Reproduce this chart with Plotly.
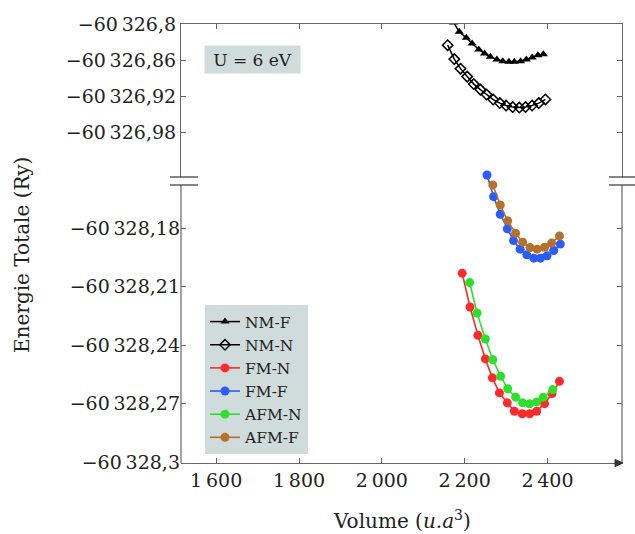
import plotly.graph_objects as go

# ---------------- data ----------------
nmf_v = [2173, 2187, 2204, 2218, 2234, 2248, 2262, 2278, 2292, 2307, 2320, 2335, 2349, 2363, 2377, 2390]
nmf_e = [-60326.797, -60326.8128, -60326.8228, -60326.8322, -60326.8422, -60326.8488, -60326.8545,
         -60326.8588, -60326.8617, -60326.8628, -60326.8628, -60326.8617, -60326.8588, -60326.8555,
         -60326.8517, -60326.8500]

nmn_v = [2159, 2175, 2190, 2206, 2222, 2238, 2253, 2269, 2285, 2300, 2316, 2332, 2347, 2363, 2379, 2395]
nmn_e = [-60326.835, -60326.8583, -60326.8742, -60326.8875, -60326.9000, -60326.9092, -60326.9175,
         -60326.9258, -60326.9317, -60326.9358, -60326.9383, -60326.9392, -60326.9383, -60326.9358,
         -60326.9317, -60326.9255]

fmn_v = [2194, 2213, 2232, 2250, 2267, 2284, 2303, 2320, 2339, 2357, 2374, 2393, 2411, 2429]
fmn_e = [-60328.2031, -60328.2204, -60328.2349, -60328.2470, -60328.2567, -60328.2644, -60328.2695,
         -60328.2738, -60328.2751, -60328.2751, -60328.2738, -60328.2699, -60328.2647, -60328.2585]

fmf_v = [2254, 2270, 2286, 2303, 2318, 2334, 2350, 2367, 2383, 2399, 2415, 2431]
fmf_e = [-60328.1528, -60328.1639, -60328.1729, -60328.1804, -60328.1864, -60328.1908, -60328.1937,
         -60328.1954, -60328.1954, -60328.1942, -60328.1915, -60328.1882]

afmn_v = [2212, 2230, 2250, 2268, 2287, 2304, 2323, 2340, 2357, 2374, 2390, 2413]
afmn_e = [-60328.2079, -60328.2235, -60328.2368, -60328.2474, -60328.2559, -60328.2623, -60328.2666,
          -60328.2695, -60328.2700, -60328.2690, -60328.2666, -60328.2627]

afmf_v = [2268, 2286, 2304, 2323, 2340, 2358, 2375, 2393, 2410, 2429]
afmf_e = [-60328.1579, -60328.1682, -60328.1763, -60328.1826, -60328.1872, -60328.1900, -60328.1908,
          -60328.1898, -60328.1877, -60328.1840]

x_ticks = [1600, 1800, 2000, 2200, 2400]
x_ticktext = ["1\u2009600", "1\u2009800", "2\u2009000", "2\u2009200", "2\u2009400"]
ytop_ticks = [-60326.8, -60326.86, -60326.92, -60326.98]
ytop_text = ["\u221260\u2009326,8", "\u221260\u2009326,86", "\u221260\u2009326,92", "\u221260\u2009326,98"]
ybot_ticks = [-60328.18, -60328.21, -60328.24, -60328.27, -60328.3]
ybot_text = ["\u221260\u2009328,18", "\u221260\u2009328,21", "\u221260\u2009328,24",
             "\u221260\u2009328,27", "\u221260\u2009328,3"]

# ---------------- figure ----------------
FONT = "DejaVu Serif"
TXT = "#222222"
AX = "#666666"
BOXBG = "#d0dbdb"

# pixel geometry of the plot area (l=181, r=622, t=24, b=463)
H = 439.0
W = 441.0
def py(p):  # pixel row -> paper y
    return (463 - p) / H
def px(p):  # pixel column -> paper x
    return (p - 181) / W

fig = go.Figure()

fig.add_trace(go.Scatter(x=nmf_v, y=nmf_e, name="NM-F", mode="lines+markers", xaxis="x2", yaxis="y2",
                         line=dict(color="black", width=1.5),
                         marker=dict(symbol="triangle-up", size=8, color="black")))
fig.add_trace(go.Scatter(x=nmn_v, y=nmn_e, name="NM-N", mode="lines+markers", xaxis="x2", yaxis="y2",
                         line=dict(color="black", width=1.5),
                         marker=dict(symbol="diamond-open", size=8, color="black", line=dict(width=1.5))))

def colored(v, e, name, col):
    return go.Scatter(x=v, y=e, name=name, mode="lines+markers", xaxis="x", yaxis="y",
                      line=dict(color=col, width=1.6),
                      marker=dict(symbol="circle", size=9, color=col))

fig.add_trace(colored(fmn_v, fmn_e, "FM-N", "#ff2a2a"))
fig.add_trace(colored(fmf_v, fmf_e, "FM-F", "#2a5cff"))
fig.add_trace(colored(afmn_v, afmn_e, "AFM-N", "#2ee02e"))
fig.add_trace(colored(afmf_v, afmf_e, "AFM-F", "#b5702a"))

xr = [1515, 2580]
common_x = dict(range=xr, tickvals=x_ticks, ticks="inside", ticklen=5, tickcolor=AX,
                showline=True, linecolor=AX, linewidth=1.2, showgrid=False, zeroline=False,
                tickfont=dict(family=FONT, size=19, color=TXT))
common_y = dict(ticks="inside", ticklen=5, tickcolor=AX, linecolor=AX, linewidth=1.2,
                mirror="ticks", showgrid=False, zeroline=False, anchor="x",
                tickfont=dict(family=FONT, size=19, color=TXT))

# bottom panel: extends a little above the break so that the first markers are not clipped
bot_top_px = 165
bot_range_top = -60328.3 + (463 - bot_top_px) * 0.03 / 58.7

fig.update_layout(
    width=635, height=534,
    margin=dict(l=181, r=13, t=24, b=71),
    plot_bgcolor="rgba(0,0,0,0)", paper_bgcolor="white",
    xaxis=dict(**common_x, anchor="y", side="bottom", ticktext=x_ticktext),
    xaxis2=dict(**common_x, anchor="y2", side="top", overlaying="x", matches="x", showticklabels=False),
    yaxis=dict(**common_y, showline=False, domain=[0, py(bot_top_px)],
               range=[-60328.3003, bot_range_top],
               tickvals=ybot_ticks, ticktext=ybot_text),
    yaxis2=dict(**common_y, showline=True, domain=[py(177), 1], range=[-60327.055, -60326.7997],
                tickvals=ytop_ticks, ticktext=ytop_text),
    showlegend=True,
    legend=dict(x=px(205), y=py(305), xanchor="left", yanchor="top", bgcolor=BOXBG,
                font=dict(family=FONT, size=15.5, color=TXT), traceorder="normal",
                borderwidth=0, itemwidth=30, tracegroupgap=0),
    font=dict(family=FONT, color=TXT),
)

# axis titles
fig.add_annotation(text="Volume (<i>u.a</i><sup>3</sup>)", xref="paper", yref="paper",
                   x=0.5, y=py(520), xanchor="center", yanchor="middle", showarrow=False,
                   font=dict(family=FONT, size=20, color=TXT))
fig.add_annotation(text="Energie Totale (Ry)", xref="paper", yref="paper",
                   x=px(22), y=py(255), xanchor="center", yanchor="middle",
                   textangle=-90, showarrow=False, font=dict(family=FONT, size=20, color=TXT))

# U = 6 eV box
fig.add_annotation(text="U = 6 eV", xref="paper", yref="paper",
                   x=px(252.5), y=py(59.5), xanchor="center", yanchor="middle",
                   showarrow=False, bgcolor=BOXBG, width=95, height=27, borderpad=0,
                   font=dict(family=FONT, size=17, color=TXT))

# left / right frame lines of the lower panel (below the break)
for xx in [0, 1]:
    fig.add_shape(type="line", xref="paper", yref="paper", x0=xx, x1=xx, y0=0, y1=py(185),
                  line=dict(color=AX, width=1.2))

# arrow head at the end of the x axis
fig.add_shape(type="path", xref="paper", yref="paper",
              path="M {a},{b} L {c},{d} L {a},{e} Z".format(a=px(615), b=py(459.5), c=px(623),
                                                               d=py(463), e=py(466.5)),
              fillcolor="#333333", line=dict(color="#333333", width=1))

# axis break marks
for x0, x1 in [(px(170), px(198)), (px(609), px(635))]:
    for yy in [py(177), py(185)]:
        fig.add_shape(type="line", xref="paper", yref="paper", x0=x0, x1=x1, y0=yy, y1=yy,
                      line=dict(color="#444444", width=1.3))

fig.write_html("out.html")
